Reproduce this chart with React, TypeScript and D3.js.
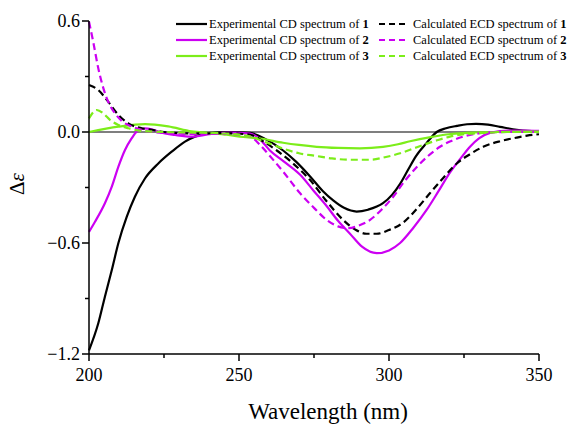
import React from "react";
import * as d3 from "d3";

// wavelength (nm) / delta epsilon pairs
const exp1: [number, number][] = [
  [200, -1.18], [203.1, -1.034], [205.3, -0.89], [207.6, -0.746], [209.8, -0.6],
  [212.6, -0.458], [215.3, -0.35], [218.7, -0.25], [223.1, -0.17], [227.6, -0.106],
  [232, -0.052], [235.3, -0.025], [240, -0.006], [247, 0.0], [253.7, -0.005],
  [259, -0.04], [264.7, -0.1], [269, -0.16], [273.7, -0.24], [278, -0.32],
  [281.4, -0.37], [285, -0.41], [289.2, -0.43], [293, -0.42], [298, -0.385],
  [301, -0.34], [303.7, -0.28], [306.5, -0.2], [309, -0.13], [312.5, -0.06],
  [315.9, 0.0], [319, 0.02], [322.6, 0.033], [326, 0.042], [329, 0.044],
  [333, 0.04], [337, 0.028], [342.6, 0.012], [346, 0.006], [350, 0.004],
];
const exp2: [number, number][] = [
  [200, -0.54], [202, -0.485], [205.3, -0.385], [207.6, -0.295], [209.8, -0.187],
  [212, -0.097], [214.2, -0.035], [215.9, 0.002], [218.7, 0.02], [220.9, 0.015],
  [224.2, -0.004], [228.7, -0.016], [234.2, -0.025], [240, -0.012], [247, -0.003],
  [253.7, -0.008], [257, -0.04], [260.3, -0.1], [265, -0.16], [270.3, -0.23],
  [275, -0.32], [279.2, -0.4], [283, -0.48], [287, -0.55], [291, -0.62],
  [295.9, -0.655], [300, -0.64], [303.7, -0.6], [308, -0.52], [312.6, -0.42],
  [316.5, -0.32], [320.3, -0.22], [324, -0.14], [327, -0.08], [330, -0.035],
  [333.7, -0.005], [340, 0.008], [345, 0.008], [350, 0.006],
];
const exp3: [number, number][] = [
  [200, 0.0], [209.8, 0.029], [218.7, 0.043], [226.4, 0.03], [234.2, 0.003],
  [240, -0.006], [245.9, -0.015], [251.4, -0.027], [257, -0.035], [264.7, -0.058],
  [270, -0.07], [275.9, -0.08], [283, -0.086], [290.3, -0.088], [298, -0.08],
  [303, -0.066], [307, -0.05], [314.8, -0.025], [320, -0.012], [325.9, -0.005],
  [335, 0.0], [350, 0.002],
];
const calc1: [number, number][] = [
  [200, 0.254], [203.1, 0.227], [206.4, 0.164], [209.8, 0.092], [213.1, 0.047],
  [217.6, 0.02], [220.9, 0.012], [225, 0.0], [235, -0.008], [245, -0.006],
  [253.7, -0.015], [258, -0.05], [262.6, -0.1], [268, -0.17], [273.7, -0.26],
  [279, -0.37], [284.7, -0.475], [289, -0.53], [292.5, -0.55], [295.9, -0.55],
  [300, -0.53], [304.7, -0.49], [309, -0.42], [313.7, -0.33], [318, -0.25],
  [322.6, -0.17], [327, -0.12], [331.4, -0.08], [337, -0.05], [342.6, -0.03],
  [346, -0.02], [350, -0.012],
];
const calc2: [number, number][] = [
  [200, 0.596], [201.4, 0.488], [203.1, 0.344], [204.8, 0.236], [206.4, 0.164],
  [208.7, 0.1], [210.9, 0.06], [214.2, 0.03], [218.7, 0.007], [225, -0.005],
  [235, -0.01], [245, -0.01], [253.7, -0.025], [257, -0.07], [260.3, -0.13],
  [265, -0.22], [270.3, -0.33], [275, -0.41], [279.2, -0.475], [283, -0.51],
  [286.5, -0.52], [290, -0.505], [293.7, -0.475], [297.5, -0.42], [301.4, -0.35],
  [305, -0.27], [309.2, -0.19], [313, -0.13], [317, -0.08], [320.5, -0.05],
  [324.7, -0.025], [329, -0.01], [333.7, -0.002], [340, 0.0], [350, 0.0],
];
const calc3: [number, number][] = [
  [200, 0.074], [202.6, 0.119], [204.8, 0.1], [207, 0.065], [209.8, 0.038],
  [213.1, 0.02], [217.6, 0.006], [225, 0.0], [235, -0.003], [245, -0.008],
  [253.7, -0.025], [259, -0.055], [264.7, -0.09], [270, -0.115], [275.9, -0.13],
  [281, -0.143], [287, -0.15], [293.7, -0.15], [299, -0.135], [303.7, -0.115],
  [307.5, -0.093], [311.4, -0.07], [316, -0.045], [320.3, -0.025], [325, -0.012],
  [331.4, -0.005], [340, 0.0], [350, 0.0],
];

const xTicks = [200, 250, 300, 350];
const xMinor = [225, 275, 325];
const yTicks = [0.6, 0.0, -0.6, -1.2];
const yMinor = [0.3, -0.3, -0.9];

const BLACK = "#000000";
const MAGENTA = "#cc00f2";
const GREEN = "#7ced1a";

const series = [
  { name: "Experimental CD spectrum of ", id: "1", data: exp1, color: BLACK, dash: false, col: 0, row: 0 },
  { name: "Experimental CD spectrum of ", id: "2", data: exp2, color: MAGENTA, dash: false, col: 0, row: 1 },
  { name: "Experimental CD spectrum of ", id: "3", data: exp3, color: GREEN, dash: false, col: 0, row: 2 },
  { name: "Calculated ECD spectrum of ", id: "1", data: calc1, color: BLACK, dash: true, col: 1, row: 0 },
  { name: "Calculated ECD spectrum of ", id: "2", data: calc2, color: MAGENTA, dash: true, col: 1, row: 1 },
  { name: "Calculated ECD spectrum of ", id: "3", data: calc3, color: GREEN, dash: true, col: 1, row: 2 },
];

const W = 571;
const H = 425;
const font = "'Liberation Serif', 'Times New Roman', serif";

export default function App() {
  const x = d3.scaleLinear().domain([200, 350]).range([89, 539]);
  const y = d3.scaleLinear().domain([0.6, -1.2]).range([21, 354]);

  const line = d3
    .line<[number, number]>()
    .x((d) => x(d[0]))
    .y((d) => y(d[1]))
    .curve(d3.curveMonotoneX);

  const fmt = (v: number) => (v < 0 ? "\u2212" + Math.abs(v).toFixed(1) : v.toFixed(1));

  // legend columns: line start x, end x, text start x
  const legCols = [
    { x0: 176, x1: 207, tx: 209 },
    { x0: 379, x1: 409, tx: 413 },
  ];
  const legRows = [24, 40, 56];

  return (
    <svg
      width={W}
      height={H}
      style={{ position: "absolute", left: 0, top: 0, display: "block", background: "#fff" }}
    >
      {/* zero line */}
      <line x1={x(200)} x2={x(350)} y1={y(0)} y2={y(0)} stroke="#000" strokeWidth={1.2} />

      {/* curves */}
      <g fill="none">
        {series.map((s, i) => (
          <path
            key={i}
            d={line(s.data) || ""}
            stroke={s.color}
            strokeWidth={2.2}
            strokeDasharray={s.dash ? "7,4" : undefined}
          />
        ))}
      </g>

      {/* x axis */}
      <g>
        <line x1={x(200)} x2={x(350)} y1={354} y2={354} stroke="#000" strokeWidth={1.5} />
        {xTicks.map((t) => (
          <g key={t}>
            <line x1={x(t)} x2={x(t)} y1={354} y2={361} stroke="#000" strokeWidth={1.5} />
            <text x={x(t)} y={381} textAnchor="middle" fontFamily={font} fontSize={18}>
              {t}
            </text>
          </g>
        ))}
        {xMinor.map((t) => (
          <line key={t} x1={x(t)} x2={x(t)} y1={354} y2={358} stroke="#000" strokeWidth={1.5} />
        ))}
        <text x={328} y={419} textAnchor="middle" fontFamily={font} fontSize={23}>
          Wavelength (nm)
        </text>
      </g>

      {/* y axis */}
      <g>
        <line x1={89} x2={89} y1={y(0.6)} y2={y(-1.2)} stroke="#000" strokeWidth={1.5} />
        {yTicks.map((t) => (
          <g key={t}>
            <line x1={82} x2={89} y1={y(t)} y2={y(t)} stroke="#000" strokeWidth={1.5} />
            <text x={80} y={y(t)} dy="0.35em" textAnchor="end" fontFamily={font} fontSize={18}>
              {fmt(t)}
            </text>
          </g>
        ))}
        {yMinor.map((t) => (
          <line key={t} x1={85} x2={89} y1={y(t)} y2={y(t)} stroke="#000" strokeWidth={1.5} />
        ))}
        <text
          transform={`translate(24,184) rotate(-90)`}
          textAnchor="middle"
          fontFamily={font}
          fontSize={21}
        >
          Δ<tspan fontStyle="italic">ε</tspan>
        </text>
      </g>

      {/* legend */}
      <g fontFamily={font} fontSize={12.5}>
        {series.map((s, i) => {
          const c = legCols[s.col];
          const ry = legRows[s.row];
          return (
            <g key={i}>
              <line
                x1={c.x0}
                x2={c.x1}
                y1={ry}
                y2={ry}
                stroke={s.color}
                strokeWidth={2.2}
                strokeDasharray={s.dash ? "6,4" : undefined}
              />
              <text x={c.tx} y={ry} dy="0.35em">
                {s.name}
                <tspan fontWeight="bold">{s.id}</tspan>
              </text>
            </g>
          );
        })}
      </g>
    </svg>
  );
}
